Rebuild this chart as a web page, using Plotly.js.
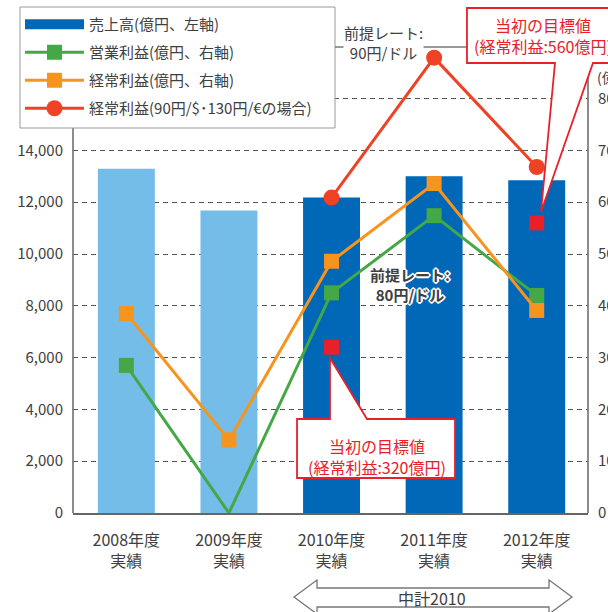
<!DOCTYPE html>
<html>
<head>
<meta charset="utf-8">
<script src="https://cdn.plot.ly/plotly-3.0.1.min.js"></script>
<style>
  html, body { margin: 0; padding: 0; background: #fff; }
  #chart { width: 608px; height: 612px; }
</style>
</head>
<body>
<div id="chart"></div>
<script>
// ---------- data ----------
const categories = ['2008年度<br>実績', '2009年度<br>実績', '2010年度<br>実績', '2011年度<br>実績', '2012年度<br>実績'];
const sales = [13290, 11680, 12180, 13000, 12850];            // 売上高 (億円, left axis)
const operatingProfit = [285, 0, 425, 574, 420];               // 営業利益 (億円, right axis)
const ordinaryProfit = [385, 141, 486, 636, 391];              // 経常利益 (億円, right axis)
const ordinaryProfitAt90 = [null, null, 609, 879, 668];        // 経常利益 (90円/$・130円/€の場合)
const initialTarget = [null, null, 320, null, 560];            // 当初の目標値
const leftTicks = [0, 2000, 4000, 6000, 8000, 10000, 12000, 14000, 16000];
const leftTickText = ['0', '2,000', '4,000', '6,000', '8,000', '10,000', '12,000', '14,000', ''];
const rightTicks = [0, 100, 200, 300, 400, 500, 600, 700, 800];
const rightTickText = ['0', '100', '200', '300', '400', '500', '600', '700', '800'];

// ---------- styling ----------
const FONT = '"Noto Sans CJK JP", "Noto Sans", sans-serif';
const TXT = '#404040';
const DARK_BLUE = '#0068B7';
const LIGHT_BLUE = '#74BDE8';
const GREEN = '#43A845';
const ORANGE = '#F7941D';
const RED_LINE = '#EF4123';
const RED = '#E8202A';
const barColors = categories.map((c, i) => (i < 2 ? LIGHT_BLUE : DARK_BLUE));
// markers sitting on the zero line are not shown in the original
const greenColors = operatingProfit.map(v => (v === 0 ? 'rgba(0,0,0,0)' : GREEN));

// plot area in pixels
const M = { l: 73, r: 20, t: 40, b: 99, autoexpand: false };
const W = 608, H = 612;
const PW = W - M.l - M.r, PH = H - M.t - M.b;
const px = x => (x - M.l) / PW;
const py = y => (H - M.b - y) / PH;
const path = pts => 'M' + pts.map(p => px(p[0]).toFixed(4) + ',' + py(p[1]).toFixed(4)).join(' L') + ' Z';

const LEFT_MAX = PH / 51.8 * 2000;
const RIGHT_MAX = LEFT_MAX / 20;

const traces = [
  {
    type: 'bar', x: categories, y: sales, width: 0.555,
    marker: { color: barColors }, showlegend: false, yaxis: 'y'
  },
  { // legend entry for bars
    type: 'scatter', mode: 'lines', x: [categories[0]], y: [null],
    name: '売上高(億円、左軸)', line: { color: DARK_BLUE, width: 13 },
    legendgroup: 'a', legendrank: 1, yaxis: 'y'
  },
  {
    type: 'scatter', mode: 'lines+markers', x: categories, y: operatingProfit,
    name: '営業利益(億円、右軸)', line: { color: GREEN, width: 3 },
    marker: { symbol: 'square', size: 15, color: greenColors, line: { width: 0 } },
    legendgroup: 'b', legendrank: 2, yaxis: 'y2', cliponaxis: false
  },
  {
    type: 'scatter', mode: 'lines+markers', x: categories, y: ordinaryProfit,
    name: '経常利益(億円、右軸)', line: { color: ORANGE, width: 3 },
    marker: { symbol: 'square', size: 15, color: ORANGE },
    legendgroup: 'c', legendrank: 3, yaxis: 'y2', cliponaxis: false
  },
  {
    type: 'scatter', mode: 'lines+markers', x: categories, y: ordinaryProfitAt90,
    name: '経常利益(90円/$･130円/€の場合)', line: { color: RED_LINE, width: 3 },
    marker: { symbol: 'circle', size: 16, color: RED_LINE },
    legendgroup: 'd', legendrank: 4, yaxis: 'y2', cliponaxis: false
  },
  {
    type: 'scatter', mode: 'markers', x: categories, y: initialTarget,
    marker: { symbol: 'square', size: 15, color: RED },
    showlegend: false, yaxis: 'y2', cliponaxis: false
  }
];

const layout = {
  width: W, height: H,
  margin: M,
  paper_bgcolor: '#fff', plot_bgcolor: '#fff',
  font: { family: FONT, color: TXT, size: 15 },
  hovermode: false,
  barmode: 'overlay',
  xaxis: {
    type: 'category', range: [-0.52, 4.5],
    showline: true, linecolor: '#666', linewidth: 1.5,
    ticks: 'outside', ticklen: 12, tickcolor: 'rgba(0,0,0,0)',
    tickfont: { size: 16, color: TXT },
    showgrid: false, zeroline: false
  },
  yaxis: {
    range: [0, LEFT_MAX],
    tickvals: leftTicks, ticktext: leftTickText,
    showgrid: true, gridcolor: '#555', gridwidth: 1, griddash: '5px,4px',
    zeroline: false, showline: false,
    ticks: 'outside', ticklen: 6, tickcolor: 'rgba(0,0,0,0)',
    tickfont: { size: 15, color: TXT }
  },
  yaxis2: {
    range: [0, RIGHT_MAX], overlaying: 'y', side: 'right',
    tickvals: rightTicks, ticktext: rightTickText,
    showgrid: false, zeroline: false, showline: false,
    ticks: 'outside', ticklen: 6, tickcolor: 'rgba(0,0,0,0)',
    tickfont: { size: 15, color: TXT }
  },
  legend: {
    x: px(20), y: py(8), xanchor: 'left', yanchor: 'top',
    bgcolor: 'rgba(0,0,0,0)', borderwidth: 0,
    font: { size: 15, color: TXT },
    traceorder: 'grouped', tracegroupgap: 5.5, itemwidth: 59
  },
  shapes: [
    { type: 'line', xref: 'paper', yref: 'y', x0: 0, x1: 0, y0: 0, y1: 17200, line: { color: '#666', width: 1.5 }, layer: 'above' },
    { type: 'line', xref: 'paper', yref: 'y', x0: 1, x1: 1, y0: 0, y1: 17200, line: { color: '#666', width: 1.5 }, layer: 'above' },
    { type: 'rect', xref: 'paper', yref: 'paper', x0: px(20), x1: px(335), y0: py(7), y1: py(128),
      fillcolor: '#fff', line: { color: '#999', width: 1 }, layer: 'above' },
    { type: 'line', xref: 'paper', yref: 'paper', x0: px(335), x1: px(467), y0: py(47), y1: py(47), line: { color: '#777', width: 1.5 }, layer: 'above' },
    { type: 'path', xref: 'paper', yref: 'paper', layer: 'above',
      path: path([[467, 8], [625, 8], [625, 63], [593, 63], [541, 212], [555, 63], [467, 63]]),
      fillcolor: '#fff', line: { color: RED, width: 1.8 } },
    { type: 'path', xref: 'paper', yref: 'paper', layer: 'above',
      path: path([[297, 419], [330, 419], [330, 358], [367, 419], [455, 419], [455, 478], [297, 478]]),
      fillcolor: '#fff', line: { color: RED, width: 1.8 } },
    { type: 'path', xref: 'paper', yref: 'paper', layer: 'above',
      path: path([[294, 597], [317, 580], [317, 588], [549, 588], [549, 580], [572, 597], [549, 614], [549, 607], [317, 607], [317, 614]]),
      fillcolor: '#fff', line: { color: '#777', width: 1.3 } }
  ],
  annotations: [
    { xref: 'paper', yref: 'paper', x: px(383), y: py(43), xanchor: 'center', yanchor: 'middle',
      text: '前提レート:<br>90円/ドル', showarrow: false, bgcolor: '#fff', borderpad: 0,
      font: { size: 15, color: TXT } },
    { xref: 'paper', yref: 'paper', x: px(543), y: py(35), xanchor: 'center', yanchor: 'middle',
      text: '当初の目標値<br>(経常利益:560億円)', showarrow: false,
      font: { size: 16, color: RED } },
    { xref: 'paper', yref: 'paper', x: px(377), y: py(456), xanchor: 'center', yanchor: 'middle',
      text: '当初の目標値<br>(経常利益:320億円)', showarrow: false,
      font: { size: 16, color: RED } },
    { xref: 'paper', yref: 'paper', x: px(410), y: py(284), xanchor: 'center', yanchor: 'middle',
      text: '前提レート:<br>80円/ドル', showarrow: false,
      font: { size: 15, color: TXT, weight: 'bold',
        shadow: '1px 1px 0 #fff, -1px -1px 0 #fff, 1px -1px 0 #fff, -1px 1px 0 #fff, 2px 0 0 #fff, -2px 0 0 #fff, 0 2px 0 #fff, 0 -2px 0 #fff' } },
    { xref: 'paper', yref: 'paper', x: px(595), y: py(77), xanchor: 'left', yanchor: 'middle',
      text: '(億円)', showarrow: false, font: { size: 14, color: TXT } },
    { xref: 'paper', yref: 'paper', x: px(432), y: py(598), xanchor: 'center', yanchor: 'middle',
      text: '中計2010', showarrow: false, font: { size: 16, color: TXT } }
  ]
};

Plotly.newPlot('chart', traces, layout, { staticPlot: true, displayModeBar: false });
</script>
</body>
</html>
